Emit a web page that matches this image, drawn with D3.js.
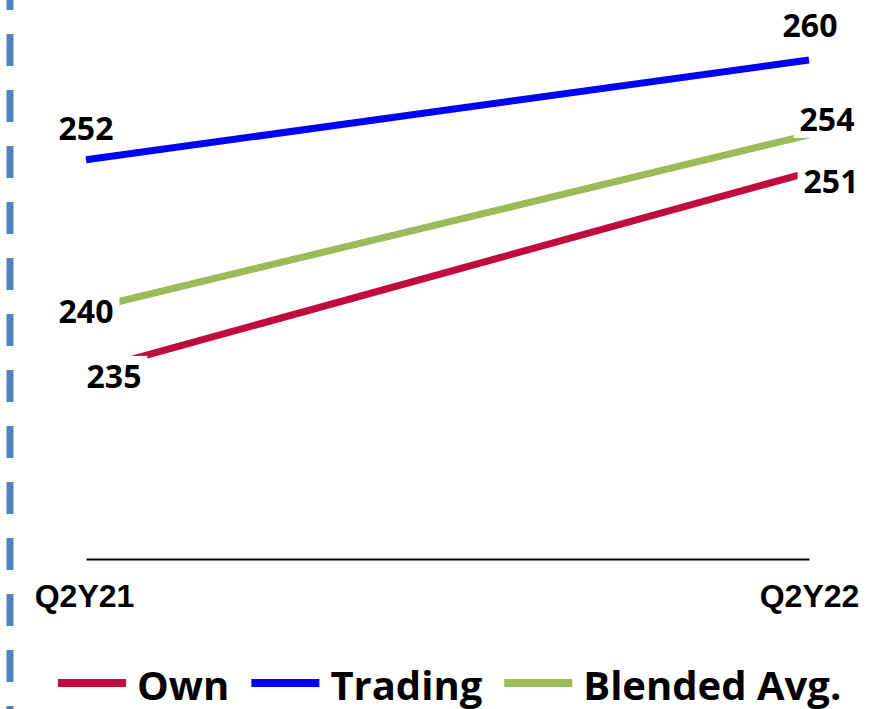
<!DOCTYPE html>
<html>
<head>
<meta charset="utf-8">
<script src="https://cdn.jsdelivr.net/npm/d3@7"></script>
<style>
  html, body { margin: 0; padding: 0; background: #fff; }
  svg { display: block; }
</style>
</head>
<body>
<svg id="chart" width="876" height="709"></svg>
<script>
// data
const periods = ["Q2Y21", "Q2Y22"];
const seriesNames = ["Own", "Trading", "Blended Avg."];
const ownValues = [235, 251];
const tradingValues = [252, 260];
const blendedValues = [240, 254];

const colors = ["#c20b3d", "#0000ff", "#9bbb59"];
// where each value label sits relative to its point [dx, dy]
const labelOffsets = [
    [[28, 16], [22, 21]],
    [[0, -20], [1, -23]],
    [[0, 13], [18, -4]]
];

const svg = d3.select('#chart');
const width = 876;
const height = 709;

const series = seriesNames.map((name, i) => ({
    name: name,
    color: colors[i],
    values: [ownValues, tradingValues, blendedValues][i]
}));

// dashed divider on the left edge
svg.append("line")
    .attr("x1", 10).attr("x2", 10)
    .attr("y1", 0).attr("y2", height)
    .attr("stroke", "#4f81bd")
    .attr("stroke-width", 7)
    .attr("stroke-dasharray", "32 24")
    .attr("stroke-dashoffset", 22);

const x = d3.scalePoint()
    .domain(periods)
    .range([86, 809]);

const y = d3.scaleLinear()
    .domain([220, 260])
    .range([559, 60]);

// x axis
const xAxis = svg.append("g")
    .attr("transform", "translate(0,559)")
    .call(d3.axisBottom(x).tickSize(0).tickPadding(0));
xAxis.select(".domain")
    .attr("stroke", "#000")
    .attr("stroke-width", 2);
xAxis.selectAll("text")
    .attr("y", 48)
    .attr("dy", 0)
    .attr("fill", "#000")
    .style("font-family", "'Liberation Sans', Arial, sans-serif")
    .style("font-weight", "bold")
    .style("font-size", "32px");
xAxis.selectAll(".tick").filter((d, i) => i == 0)
    .select("text").attr("x", -2);

const line = d3.line()
    .x((d, i) => x(periods[i]))
    .y(d => y(d));

svg.append("g")
    .selectAll("path")
    .data(series)
    .enter()
    .append("path")
    .attr("d", d => line(d.values))
    .attr("fill", "none")
    .attr("stroke", d => d.color)
    .attr("stroke-width", 7);

// value labels with white boxes over the line ends
const labels = svg.append("g");
series.forEach((s, si) => {
    s.values.forEach((v, i) => {
        const g = labels.append("g");
        const t = g.append("text")
            .attr("x", x(periods[i]) + labelOffsets[si][i][0])
            .attr("y", y(v) + labelOffsets[si][i][1])
            .attr("text-anchor", "middle")
            .style("font-family", "'Open Sans', sans-serif")
            .style("font-weight", "bold")
            .style("font-size", "32px")
            .attr("fill", "#000")
            .text(v);
        const b = t.node().getBBox();
        g.insert("rect", "text")
            .attr("x", b.x - 6)
            .attr("y", b.y + 2)
            .attr("width", b.width + 12)
            .attr("height", b.height - 4)
            .attr("fill", "#fff");
    });
});

// legend
const legend = svg.append("g").attr("transform", "translate(58,683)");
let lx = 0;
series.forEach(s => {
    legend.append("line")
        .attr("x1", lx).attr("x2", lx + 68)
        .attr("y1", 0).attr("y2", 0)
        .attr("stroke", s.color)
        .attr("stroke-width", 8);
    const t = legend.append("text")
        .attr("x", lx + 79)
        .attr("y", 17)
        .style("font-family", "'Open Sans', sans-serif")
        .style("font-weight", "bold")
        .style("font-size", "40px")
        .attr("fill", "#000")
        .text(s.name);
    lx += 79 + t.node().getComputedTextLength() + 22;
});
</script>
</body>
</html>
